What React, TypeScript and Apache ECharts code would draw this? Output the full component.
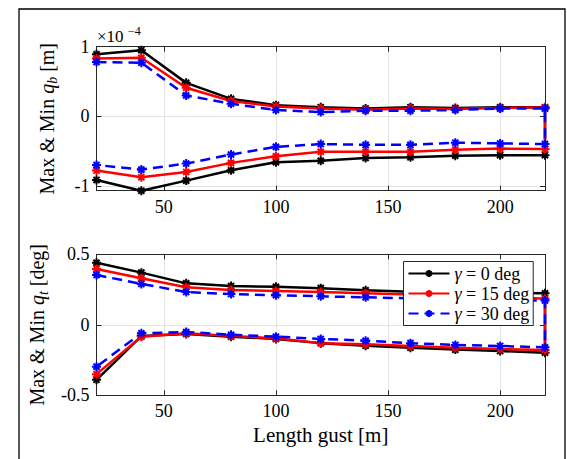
import React, { useEffect, useRef } from 'react';
import * as echarts from 'echarts';

const FONT = 'Liberation Serif';
const AXC = '#262626';

// gust length [m]
const xs = [20, 40, 60, 80, 100, 120, 140, 160, 180, 200, 220];

// q_b (units of 1e-4 m)
const qbMax0 = [0.89, 0.95, 0.48, 0.25, 0.16, 0.13, 0.11, 0.13, 0.12, 0.13, 0.13];
const qbMax15 = [0.83, 0.84, 0.41, 0.22, 0.14, 0.11, 0.095, 0.11, 0.105, 0.12, 0.125];
const qbMax30 = [0.78, 0.77, 0.3, 0.18, 0.09, 0.06, 0.08, 0.08, 0.09, 0.11, 0.11];
const qbMin0 = [-0.915, -1.07, -0.925, -0.776, -0.66, -0.64, -0.6, -0.59, -0.566, -0.56, -0.56];
const qbMin15 = [-0.78, -0.877, -0.8, -0.67, -0.575, -0.51, -0.51, -0.51, -0.48, -0.465, -0.47];
const qbMin30 = [-0.7, -0.767, -0.68, -0.55, -0.44, -0.4, -0.41, -0.41, -0.38, -0.39, -0.4];

// q_t [deg]
const qtMax0 = [0.44, 0.37, 0.294, 0.275, 0.27, 0.26, 0.245, 0.235, 0.23, 0.225, 0.223];
const qtMax15 = [0.396, 0.33, 0.266, 0.247, 0.24, 0.233, 0.223, 0.215, 0.205, 0.2, 0.185];
const qtMax30 = [0.353, 0.29, 0.233, 0.218, 0.21, 0.202, 0.195, 0.188, 0.18, 0.175, 0.172];
const qtMin0 = [-0.39, -0.08, -0.065, -0.084, -0.1, -0.13, -0.148, -0.162, -0.176, -0.186, -0.198];
const qtMin15 = [-0.35, -0.084, -0.06, -0.08, -0.096, -0.13, -0.138, -0.15, -0.162, -0.172, -0.179];
const qtMin30 = [-0.297, -0.06, -0.051, -0.07, -0.084, -0.1, -0.113, -0.13, -0.143, -0.15, -0.16];

const seriesNames = ['g0', 'g15', 'g30'];
const legendLabels: Record<string, string> = {
  g0: '{i|γ} = 0 deg',
  g15: '{i|γ} = 15 deg',
  g30: '{i|γ} = 30 deg',
};
const colors = ['#000000', '#ff0000', '#0000ff'];

const STAR = 'path://M0,5L10,5M5,0L5,10M1.6,1.6L8.4,8.4M1.6,8.4L8.4,1.6';

function loop(maxArr: number[], minArr: number[]) {
  const a = xs.map((x, i) => [x, maxArr[i]]);
  const b = xs.map((x, i) => [x, minArr[i]]).reverse();
  return a.concat(b);
}

function mkSeries(idx: number, maxArr: number[], minArr: number[], axis: number) {
  const c = colors[idx];
  return {
    type: 'line',
    name: seriesNames[idx],
    xAxisIndex: axis * 2,
    yAxisIndex: axis * 2,
    data: loop(maxArr, minArr),
    symbol: STAR,
    symbolSize: 9,
    showSymbol: true,
    lineStyle: { color: c, width: 2.5, type: idx === 2 ? [10, 6] : 'solid' },
    itemStyle: { color: c, borderColor: c, borderWidth: 2 },
    z: 2,
  };
}

const nameRich = {
  t: { fontFamily: FONT, fontSize: 20, color: '#000', lineHeight: 23, verticalAlign: 'top' },
  q: { fontFamily: FONT, fontSize: 20, fontStyle: 'italic', color: '#000', lineHeight: 23, verticalAlign: 'top' },
  s: { fontFamily: FONT, fontSize: 14, fontStyle: 'italic', color: '#000', lineHeight: 10, verticalAlign: 'bottom' },
};

function xMain(gridIndex: number, withName: boolean) {
  return {
    type: 'value',
    gridIndex,
    min: 20,
    max: 220,
    splitNumber: 4,
    position: 'bottom',
    axisLine: { show: true, onZero: false, lineStyle: { color: AXC, width: 1 } },
    axisTick: { show: true, inside: true, length: 5, lineStyle: { color: AXC } },
    axisLabel: {
      fontFamily: FONT,
      fontSize: 18,
      color: '#000',
      margin: 7,
      formatter: (v: number) => (v % 50 === 0 ? String(v) : ''),
    },
    splitLine: { show: true, lineStyle: { color: '#e3e3e3', width: 1 } },
    name: withName ? 'Length gust [m]' : '',
    nameLocation: 'middle',
    nameGap: 29,
    nameTextStyle: { fontFamily: FONT, fontSize: 21, color: '#000' },
  };
}

function xMirror(gridIndex: number) {
  return {
    type: 'value',
    gridIndex,
    min: 20,
    max: 220,
    splitNumber: 4,
    position: 'top',
    axisLine: { show: true, onZero: false, lineStyle: { color: AXC, width: 1 } },
    axisTick: { show: true, inside: true, length: 5, lineStyle: { color: AXC } },
    axisLabel: { show: false },
    splitLine: { show: false },
  };
}

function yMain(gridIndex: number, min: number, max: number, step: number, name: string) {
  return {
    type: 'value',
    gridIndex,
    min,
    max,
    splitNumber: 2,
    position: 'left',
    axisLine: { show: true, onZero: false, lineStyle: { color: AXC, width: 1 } },
    axisTick: { show: true, inside: true, length: 5, lineStyle: { color: AXC } },
    axisLabel: {
      fontFamily: FONT,
      fontSize: 18,
      color: '#000',
      margin: 7,
      formatter: (v: number) => {
        const k = v / step;
        return Math.abs(k - Math.round(k)) < 1e-6 ? String(Math.round(k) * step) : '';
      },
    },
    splitLine: { show: true, lineStyle: { color: '#e3e3e3', width: 1 } },
    name,
    nameLocation: 'middle',
    nameGap: 37,
    nameTextStyle: { fontFamily: FONT, fontSize: 20, color: '#000', rich: nameRich },
  };
}

function yMirror(gridIndex: number, min: number, max: number) {
  return {
    type: 'value',
    gridIndex,
    min,
    max,
    splitNumber: 2,
    position: 'right',
    axisLine: { show: true, onZero: false, lineStyle: { color: AXC, width: 1 } },
    axisTick: { show: true, inside: true, length: 5, lineStyle: { color: AXC } },
    axisLabel: { show: false },
    splitLine: { show: false },
  };
}

export default function App() {
  const ref = useRef<HTMLDivElement>(null);
  useEffect(() => {
    const chart = echarts.init(ref.current!, null, { renderer: 'svg' });
    const option = {
      animation: false,
      backgroundColor: '#ffffff',
      grid: [
        { left: 96.5, right: 22, top: 46.7, height: 144 },
        { left: 96.5, right: 22, top: 254.3, height: 141 },
      ],
      xAxis: [xMain(0, false), xMirror(0), xMain(1, true), xMirror(1)],
      yAxis: [
        yMain(0, -1.07, 1, 1, '{t|Max & Min }{q|q}{s|b}{t| [m]}'),
        yMirror(0, -1.07, 1),
        yMain(1, -0.5, 0.5, 0.5, '{t|Max & Min }{q|q}{s|t}{t| [deg]}'),
        yMirror(1, -0.5, 0.5),
      ],
      legend: {
        show: true,
        z: 20,
        orient: 'vertical',
        left: 403.5,
        top: 261.5,
        padding: [2, 4, 2, 4],
        itemGap: 0,
        itemWidth: 41,
        itemHeight: 9,
        backgroundColor: '#ffffff',
        borderColor: AXC,
        borderWidth: 1,
        borderRadius: 0,
        data: seriesNames,
        formatter: (n: string) => legendLabels[n],
        textStyle: {
          fontFamily: FONT,
          fontSize: 18,
          color: '#000',
          lineHeight: 20,
          rich: {
            i: { fontFamily: FONT, fontSize: 18, fontStyle: 'italic', color: '#000', lineHeight: 20 },
          },
        },
      },
      graphic: [
        {
          type: 'rect',
          silent: true,
          shape: { x: 19, y: 9, width: 546, height: 470 },
          style: { fill: 'none', stroke: '#000', lineWidth: 1.3 },
        },
        {
          type: 'text',
          x: 97,
          y: 36,
          style: { text: '×10', fontFamily: FONT, fontSize: 17, fill: '#000', verticalAlign: 'middle', align: 'left' },
        },
        {
          type: 'text',
          x: 128,
          y: 31,
          style: { text: '−4', fontFamily: FONT, fontSize: 12, fill: '#000', verticalAlign: 'middle', align: 'left' },
        },
      ],
      series: [
        mkSeries(0, qbMax0, qbMin0, 0),
        mkSeries(1, qbMax15, qbMin15, 0),
        mkSeries(2, qbMax30, qbMin30, 0),
        mkSeries(0, qtMax0, qtMin0, 1),
        mkSeries(1, qtMax15, qtMin15, 1),
        mkSeries(2, qtMax30, qtMin30, 1),
      ],
    };
    chart.setOption(option as any);
    return () => chart.dispose();
  }, []);
  return (
    <div
      ref={ref}
      style={{ position: 'absolute', left: 0, top: 0, width: 567, height: 459, background: '#fff' }}
    />
  );
}
